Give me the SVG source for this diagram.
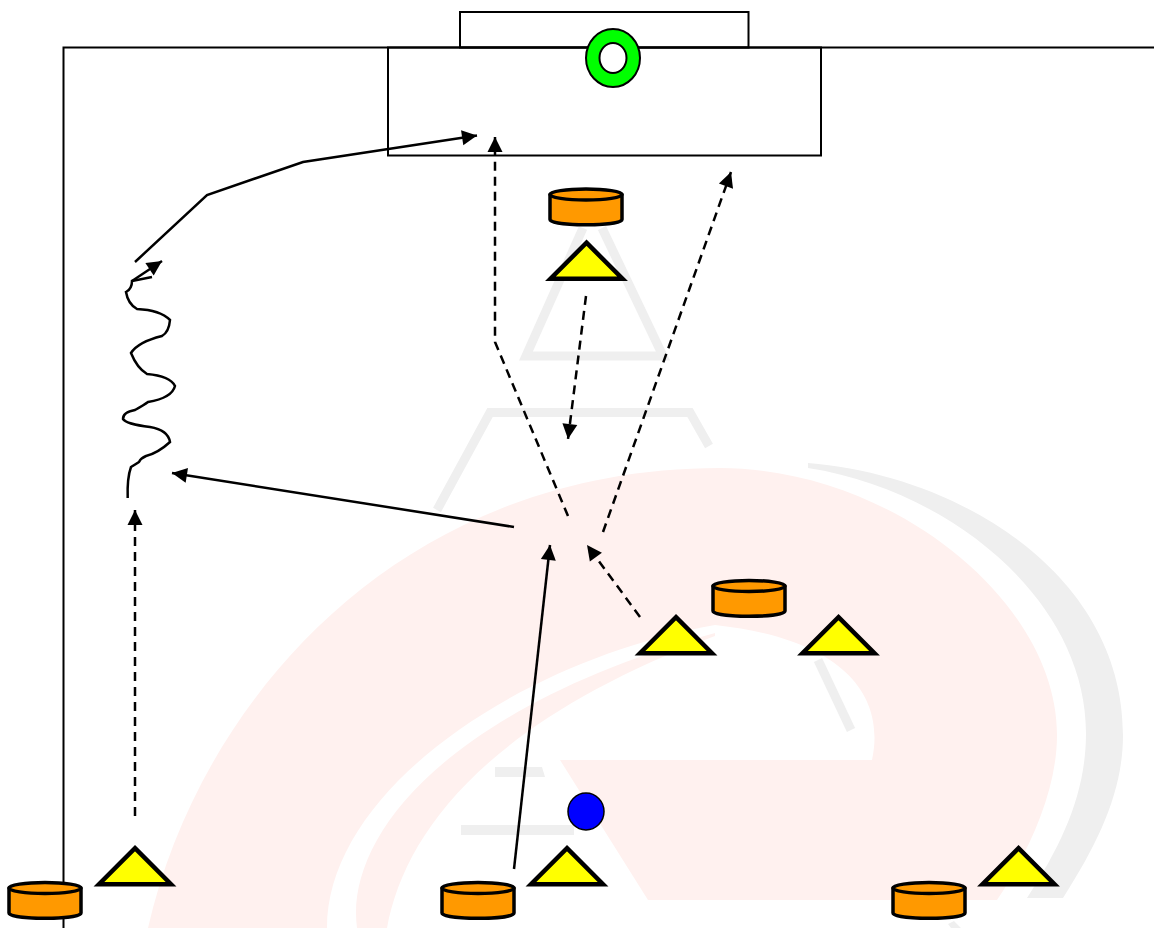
<svg xmlns="http://www.w3.org/2000/svg" xmlns:xlink="http://www.w3.org/1999/xlink" width="1154" height="928" viewBox="0 0 1154 928">
<style>
.pink{fill:#fff1ef;stroke:none}
.grey{fill:#efefef;stroke:none}
.gl{fill:none;stroke:#efefef;stroke-width:9}
.box{fill:none;stroke:#000;stroke-width:2}
.c{fill:none;stroke:#000;stroke-width:2.500}
.d{fill:none;stroke:#000;stroke-width:2.500;stroke-dasharray:9 6}
.a{marker-end:url(#ah)}
.tri{fill:#ffff00;stroke:#000;stroke-width:4.500;stroke-linejoin:miter}
.cyl{fill:#ff9900;stroke:#000;stroke-width:3.500;stroke-linejoin:round}
</style>
<defs>
<marker id="ah" markerUnits="userSpaceOnUse" markerWidth="16" markerHeight="16" refX="15" refY="7.500" orient="auto" overflow="visible"><path d="M0 0L15 7.500L0 15Z" fill="#000"/></marker>
<polygon id="tri" class="tri" points="0,3.200 36,39.200 -36,39.200"/>
<g id="cyl">
<path class="cyl" d="M-36 6V31C-36 38 36 38 36 31V6Z"/>
<ellipse class="cyl" cx="0" cy="6" rx="36" ry="5.500"/>
</g>
</defs>
<rect width="1154" height="928" fill="#fff"/>
<g id="watermark">
<path class="pink" d="M148 928C200 700 400 468 720 468C890 468 1057 600 1057 735C1057 790 1030 850 997 900L648 900L560 760L872 760C885 700 850 640 715 625C520 660 327 790 327 928Z"/>
<path class="pink" d="M357 928C345 840 440 710 715 633L715 636C490 720 405 830 387 928Z"/>
<path class="grey" d="M808 463C960 475 1123 575 1123 735C1123 790 1100 840 1063 898L1027 898C1065 840 1086 790 1086 733C1086 600 950 490 808 468Z"/>
<path class="gl" d="M583 228L526 356H663L602 228"/>
<path class="gl" d="M437 510L490 412.500H690L709 446"/>
<path class="gl" d="M818 660L851 730"/>
<path class="grey" d="M495 767H542L545 777H495ZM461 825H574V835H461ZM948 924L954 921L961 928H951Z"/>
</g>
<g id="field">
<rect class="box" x="460" y="12" width="288.500" height="35.500"/>
<rect class="box" x="388" y="47.500" width="433" height="108"/>
<path class="box" d="M1154 47.500H63.500V928"/>
</g>
<g id="connectors">
<path class="c a" d="M135 262L207 195L303 162L477 135.500"/>
<path class="d a" d="M568 516L495 342V137"/>
<path class="d a" d="M603 532L731 172"/>
<path class="d a" d="M586 296L568 439"/>
<path class="c a" d="M514 527L172 473"/>
<path class="d a" d="M135 816V510"/>
<path class="c a" d="M514 869L550 545"/>
<path class="d a" d="M640 617L587 545"/>
<path class="c" d="M127.700 498Q127 478 131 467Q136 464 139 462Q141 458 146 456Q158 453 170 442Q168 430 150 427Q126 424 123 419Q123 412 135 410Q144 405 148 402Q172 398 175 386Q170 376 147 374Q137 368 131 353Q138 342 162 336Q169 332 170 320Q160 310 137 309Q128 304 126 292Q132 289 132 281L152 277"/>
<path class="c a" d="M132 281L162 261"/>
</g>
<g id="goal-ring">
<ellipse cx="613" cy="58" rx="27" ry="29" fill="#00ff00" stroke="#000" stroke-width="2"/>
<ellipse cx="613" cy="58" rx="13.500" ry="15" fill="#fff" stroke="#000" stroke-width="2"/>
</g>
<g id="ball"><ellipse cx="586" cy="811.500" rx="18" ry="18.500" fill="#0000ff" stroke="#000" stroke-width="1.500"/></g>
<g id="tri1"><use href="#tri" x="586.500" y="239.500"/></g>
<g id="tri2"><use href="#tri" x="135" y="845"/></g>
<g id="tri3"><use href="#tri" x="676" y="614"/></g>
<g id="tri4"><use href="#tri" x="838.500" y="614"/></g>
<g id="tri5"><use href="#tri" x="567" y="845"/></g>
<g id="tri6"><use href="#tri" x="1018.500" y="845"/></g>
<g id="cyl1"><use href="#cyl" x="586" y="188.500"/></g>
<g id="cyl2"><use href="#cyl" x="749" y="580"/></g>
<g id="cyl3"><use href="#cyl" x="45" y="882"/></g>
<g id="cyl4"><use href="#cyl" x="478" y="882"/></g>
<g id="cyl5"><use href="#cyl" x="929" y="882"/></g>
</svg>
